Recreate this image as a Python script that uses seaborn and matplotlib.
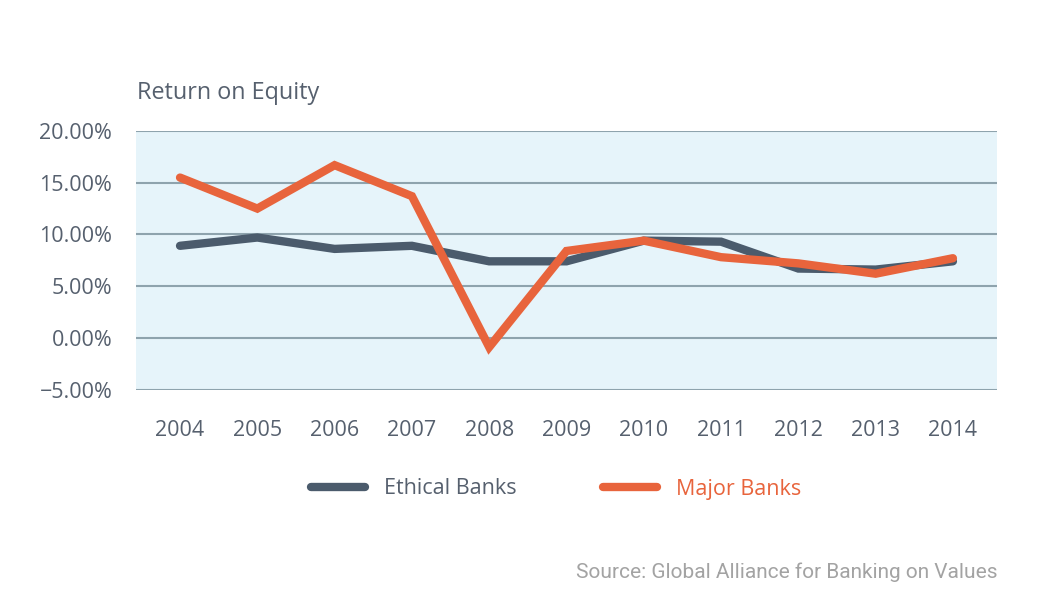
import matplotlib
matplotlib.use("Agg")
import matplotlib.pyplot as plt
import seaborn as sns
import pandas as pd
from matplotlib.ticker import FuncFormatter
from matplotlib.lines import Line2D

years = [2004, 2005, 2006, 2007, 2008, 2009, 2010, 2011, 2012, 2013, 2014]
ethical = [8.9, 9.7, 8.6, 8.9, 7.4, 7.4, 9.4, 9.3, 6.7, 6.6, 7.4]
major = [15.5, 12.5, 16.7, 13.7, -0.9, 8.4, 9.4, 7.8, 7.2, 6.2, 7.7]
series_names = ["Ethical Banks", "Major Banks"]
title_text = "Return on Equity"
source_text = "Source: Global Alliance for Banking on Values"

df = pd.DataFrame({
    "Year": years * 2,
    "ROE": ethical + major,
    "Series": [series_names[0]] * len(years) + [series_names[1]] * len(years),
})

sns.set_theme(style="white")
plt.rcParams["font.family"] = ["Open Sans", "DejaVu Sans"]

text_col = "#56606e"
colors = {"Ethical Banks": "#4b5b6c", "Major Banks": "#e8643c"}

fig = plt.figure(figsize=(10.5, 6), dpi=100)
ax = fig.add_axes([0.1295, 0.3508, 0.82, 0.4308])
ax.set_facecolor("#e6f4fa")

sns.lineplot(data=df, x="Year", y="ROE", hue="Series", palette=colors,
             linewidth=6, ax=ax, legend=False, zorder=3)
for ln in ax.lines:
    ln.set_solid_capstyle("round")
    ln.set_solid_joinstyle("miter")

ax.set_ylim(-5, 20)
ax.set_xlim(2003.43, 2014.57)
ax.set_yticks([-5, 0, 5, 10, 15, 20])
ax.yaxis.set_major_formatter(FuncFormatter(lambda v, p: f"{v:.2f}%".replace("-", "\u2212")))
ax.set_xticks(years)
ax.set_xticklabels([str(y) for y in years])
ax.grid(axis="y", color="#8ea3ad", linewidth=1.5, zorder=1)
ax.grid(axis="x", visible=False)
for s in ax.spines.values():
    s.set_visible(False)
ax.tick_params(axis="both", length=0, labelsize=15.5, labelcolor=text_col)
ax.tick_params(axis="y", pad=17)
ax.tick_params(axis="x", pad=22)
ax.set_xlabel("")
ax.set_ylabel("")

fig.text(137 / 1050, 1 - 93 / 600, title_text, fontsize=16.8, color=text_col,
         ha="left", va="center")

handles = [Line2D([0], [0], color=colors[n], linewidth=6, solid_capstyle="round") for n in series_names]
leg = fig.legend(handles, series_names, loc="center", bbox_to_anchor=(556 / 1050, 1 - 489 / 600),
                 ncol=2, frameon=False, fontsize=15.5, handlelength=2.5, handletextpad=0.9,
                 columnspacing=4.0)
for t, n in zip(leg.get_texts(), series_names):
    t.set_color(colors[n] if n == "Major Banks" else text_col)

fig.text(997 / 1050, 1 - 572 / 600, source_text, fontsize=15, color="#a3a3a3",
         ha="right", va="center", family=["Roboto", "DejaVu Sans"])

fig.savefig("out.png", dpi=100, facecolor="white")
